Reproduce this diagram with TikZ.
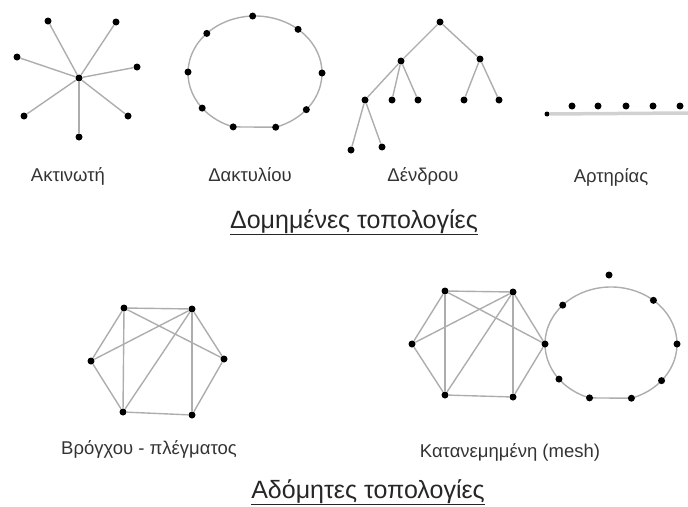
\documentclass[tikz,border=0pt]{standalone}
\usepackage{fontspec}
\setmainfont{Liberation Sans}
\usetikzlibrary{calc}
\begin{document}
\begin{tikzpicture}[x=1pt,y=-1pt,
  dot/.style={circle,fill=black,inner sep=0pt,minimum size=7pt},
  smalldot/.style={circle,fill=black,inner sep=0pt,minimum size=5pt},
  link/.style={draw=black!32,line width=1.4pt},
  busline/.style={draw=black!18,line width=3.5pt},
  caption/.style={font=\fontsize{18.5}{21}\selectfont,text=black!80,inner sep=0pt,anchor=base},
  heading/.style={font=\fontsize{25}{29}\selectfont,text=black!85,inner sep=0pt,anchor=base}]
\useasboundingbox (0,0) rectangle (688,506);

% ---- star ----
\node[dot] (s0) at (79,78) {};
\node[dot] (s1) at (48,21) {};
\node[dot] (s2) at (116,22) {};
\node[dot] (s3) at (17,57) {};
\node[dot] (s4) at (137,67) {};
\node[dot] (s5) at (24,116) {};
\node[dot] (s6) at (128,116) {};
\node[dot] (s7) at (79,137) {};
\foreach \i in {1,...,7} \draw[link] (s0) -- (s\i);
\node[caption] (lstar) at (68,181) {Ακτινωτή};

% ---- ring ----
\coordinate (rc) at (255,73);
\draw[link] ($(rc)+(109:67 and 57)$) arc[start angle=109,end angle=432,x radius=67,y radius=57] -- cycle;
\foreach \a [count=\i] in {268,310,0,40,72,109,142,181,224}
  \node[dot] (r\i) at ($(rc)+(\a:67 and 57)$) {};
\node[caption] (lring) at (250,181) {Δακτυλίου};

% ---- tree ----
\node[dot] (t0) at (440,22) {};
\node[dot] (t1) at (401,61) {};
\node[dot] (t2) at (480,59) {};
\node[dot] (t3) at (365,100) {};
\node[dot] (t4) at (392,100) {};
\node[dot] (t5) at (418,100) {};
\node[dot] (t6) at (464,100) {};
\node[dot] (t7) at (499,100) {};
\node[dot] (t8) at (351,150) {};
\node[dot] (t9) at (382,147) {};
\foreach \u/\v in {t0/t1,t0/t2,t1/t3,t1/t4,t1/t5,t2/t6,t2/t7,t3/t8,t3/t9}
  \draw[link] (\u) -- (\v);
\node[caption] (ltree) at (423,181) {Δένδρου};

% ---- bus ----
\node[smalldot] (b0) at (547,114) {};
\coordinate (bend) at (688,113);
\draw[busline] (b0) -- (bend);
\foreach \x [count=\i] in {572,598,626,653,680}
  \node[dot] (b\i) at (\x,106) {};
\node[caption] (lbus) at (611,182) {Αρτηρίας};

\node[heading] (h1) at (354,228) {\underline{Δομημένες τοπολογίες}};

% ---- partial mesh ----
\node[dot] (m1) at (124,308) {};
\node[dot] (m2) at (192,309) {};
\node[dot] (m3) at (224,359) {};
\node[dot] (m4) at (192,415) {};
\node[dot] (m5) at (123,412) {};
\node[dot] (m6) at (91,361) {};
\foreach \u/\v in {m1/m2,m1/m6,m1/m5,m1/m3,m2/m6,m2/m5,m2/m4,m2/m3,m6/m5,m5/m4,m4/m3}
  \draw[link] (\u) -- (\v);
\node[caption] (lmesh) at (149,454) {Βρόγχου - πλέγματος};

% ---- hybrid: mesh joined to a ring ----
\coordinate (qc) at (611,344);
\draw[link] ($(qc)+(109:66 and 57)$) arc[start angle=109,end angle=432,x radius=66,y radius=57] -- cycle;
\node[dot] (n1) at (445,291) {};
\node[dot] (n2) at (513,292) {};
\node[dot] (n3) at ($(qc)+(180:66 and 57)$) {};
\node[dot] (n4) at (513,397) {};
\node[dot] (n5) at (445,395) {};
\node[dot] (n6) at (412,344) {};
\foreach \u/\v in {n1/n2,n1/n6,n1/n5,n1/n3,n2/n6,n2/n5,n2/n4,n2/n3,n6/n5,n5/n4,n4/n3}
  \draw[link] (\u) -- (\v);
\foreach \a [count=\i] in {223,310,0,40,72,109,142}
  \node[dot] (q\i) at ($(qc)+(\a:66 and 57)$) {};
\node[dot] (qtop) at (609,275) {};
\node[caption] (lhyb) at (510,457) {Κατανεμημένη (mesh)};

\node[heading] (h2) at (368,498) {\underline{Αδόμητες τοπολογίες}};
\end{tikzpicture}
\end{document}
